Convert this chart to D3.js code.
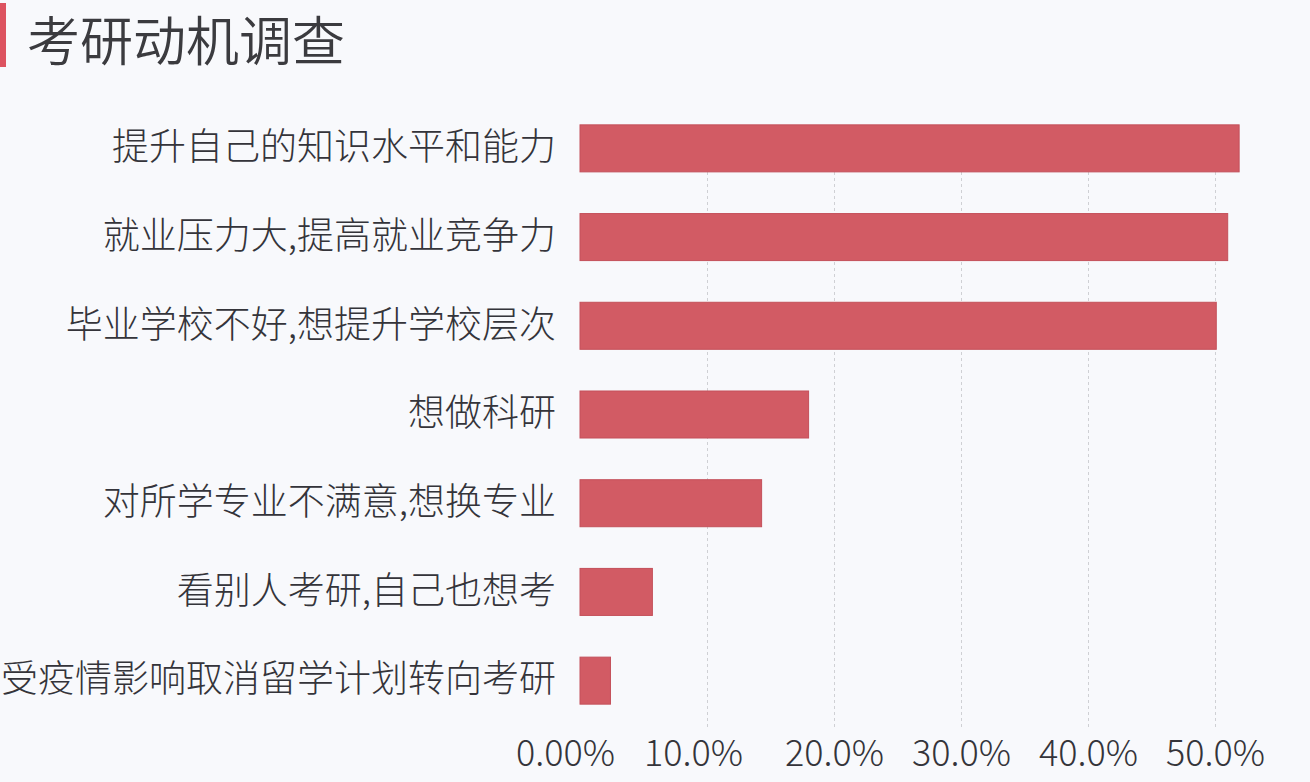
<!DOCTYPE html>
<html>
<head>
<meta charset="utf-8">
<script src="https://cdn.jsdelivr.net/npm/d3@7"></script>
<style>
  html, body { margin: 0; padding: 0; background: #f8f9fc; }
  svg { display: block; font-family: "Noto Sans CJK SC", "Noto Sans", sans-serif; }
</style>
</head>
<body>
<svg id="chart"></svg>
<script>
const TITLE = "考研动机调查";
const categories = [
  "提升自己的知识水平和能力",
  "就业压力大,提高就业竞争力",
  "毕业学校不好,想提升学校层次",
  "想做科研",
  "对所学专业不满意,想换专业",
  "看别人考研,自己也想考",
  "受疫情影响取消留学计划转向考研"
];
const shares = [0.519, 0.510, 0.501, 0.180, 0.143, 0.057, 0.024];
const ticks = [0, 0.1, 0.2, 0.3, 0.4, 0.5];
const tickLabels = ["0.00%", "10.0%", "20.0%", "30.0%", "40.0%", "50.0%"];

const drawChart = () => {
  const width = 1310, height = 782;
  const svg = d3.select("#chart").attr("width", width).attr("height", height);

  svg.append("rect").attr("width", width).attr("height", height).attr("fill", "#f8f9fc");

  // title with red marker on the left
  svg.append("rect").attr("x", 0).attr("y", 3).attr("width", 6).attr("height", 64).attr("fill", "#dd5360");
  svg.append("text")
    .attr("x", 27).attr("y", 61)
    .attr("font-size", 53)
    .attr("font-weight", 350)
    .attr("fill", "#3b3b3f")
    .text(TITLE);

  const xScale = d3.scaleLinear().domain([0, 0.5]).range([580, 1215]);
  const yScale = d3.scaleBand()
    .domain(categories)
    .range([104, 725])
    .paddingInner(0.47)
    .paddingOuter(0.235);

  // dashed grid lines
  svg.append("g")
    .selectAll("line")
    .data(ticks.slice(1))
    .enter()
    .append("line")
    .attr("x1", (d) => xScale(d) + 0.5)
    .attr("x2", (d) => xScale(d) + 0.5)
    .attr("y1", 172)
    .attr("y2", 727)
    .attr("stroke", "#cfd0d4")
    .attr("stroke-width", 1)
    .attr("stroke-dasharray", "3,3");

  svg.append("g")
    .selectAll("rect")
    .data(shares)
    .enter()
    .append("rect")
    .attr("x", xScale(0))
    .attr("y", (d, i) => yScale(categories[i]))
    .attr("width", (d) => xScale(d) - xScale(0))
    .attr("height", yScale.bandwidth())
    .attr("fill", "#d25b64")
    .attr("stroke", "#c4505a")
    .attr("stroke-width", 1);

  // category labels
  const yAxis = d3.axisLeft(yScale).tickSize(0).tickPadding(24);
  const gy = svg.append("g").attr("transform", "translate(580,0)").call(yAxis);
  gy.select(".domain").remove();
  gy.selectAll("text")
    .attr("font-size", 37)
    .attr("font-weight", 300)
    .attr("font-family", "\"Noto Sans CJK SC\", sans-serif")
    .attr("fill", "#34343a");

  // percent axis
  const xAxis = d3.axisBottom(xScale)
    .tickValues(ticks)
    .tickFormat((d, i) => tickLabels[i])
    .tickSize(0)
    .tickPadding(0);
  const gx = svg.append("g").attr("transform", "translate(0,737)").call(xAxis);
  gx.select(".domain").remove();
  gx.selectAll("text")
    .attr("font-size", 36)
    .attr("font-weight", 300)
    .attr("font-family", "\"Noto Sans CJK SC\", sans-serif")
    .attr("fill", "#34343a")
    .attr("dy", "0.8em")
    .attr("dx", (d, i) => i === 0 ? -15 : (i === 1 ? -14 : 0));
};

document.addEventListener('DOMContentLoaded', drawChart, false);
</script>
</body>
</html>
